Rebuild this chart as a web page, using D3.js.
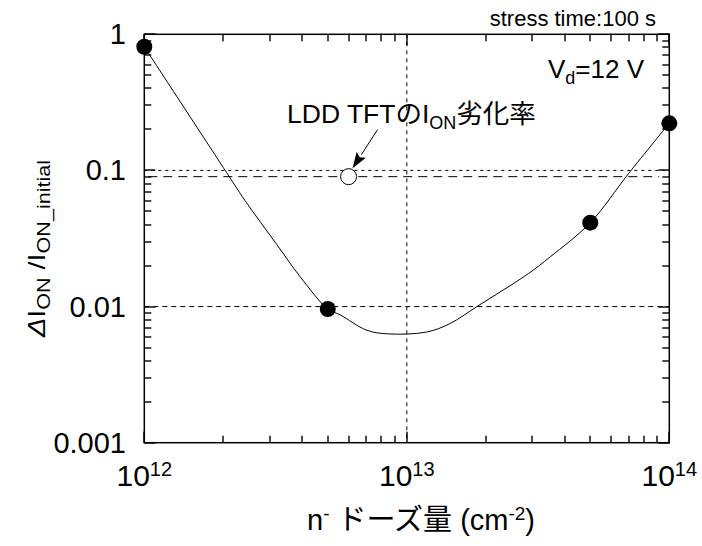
<!DOCTYPE html>
<html>
<head>
<meta charset="utf-8">
<script src="https://cdn.jsdelivr.net/npm/d3@7"></script>
<style>
  html, body { margin: 0; padding: 0; background: #fff; }
  svg { display: block; }
  text { font-family: "Liberation Sans", Arial, "Noto Sans CJK JP", sans-serif; fill: #000; }
</style>
</head>
<body>
<svg id="chart" width="702" height="546"></svg>
<script>
// n- dose (cm^-2) vs. relative ON-current degradation
const measuredDose  = [1e12, 5e12, 5e13, 1e14];
const measuredRatio = [0.81, 0.0096, 0.0413, 0.222];

// fitted trend line through the measurements
const curveDose  = [1e12, 2e12, 2.42e12, 3.2e12, 3.92e12, 5e12, 5.57e12, 7.04e12, 8.5e12,
                    1.19e13, 1.46e13, 1.85e13, 2.91e13, 3.52e13, 5e13, 7e13, 1e14];
const curveRatio = [0.81, 0.105, 0.06, 0.0285, 0.0166, 0.0096, 0.0087, 0.0067, 0.0063,
                    0.0065, 0.0075, 0.0100, 0.0175, 0.0232, 0.0413, 0.095, 0.222];

// LDD TFT reference value
const lddDose  = 6e12;
const lddRatio = 0.09;

const xTickExps   = [12, 13, 14];
const yTickValues = [0.001, 0.01, 0.1, 1];
const yTickLabels = ["0.001", "0.01", "0.1", "1"];
const xGridValues = [1e13];
const yGridValues = [0.01, 0.1];

const svg = d3.select("#chart");
const L = 144.3, R = 669.3, T = 34.3, B = 442.7;

const x = d3.scaleLog().domain([1e12, 1e14]).range([L, R]);
const y = d3.scaleLog().domain([0.001, 1]).range([B, T]);

const isDecade = v => Math.abs(Math.log10(v) - Math.round(Math.log10(v))) < 1e-6;
const tickLen = v => isDecade(v) ? 11 : 7;

// grid lines
svg.selectAll("line.vgrid").data(xGridValues).join("line").attr("class", "vgrid")
  .attr("x1", d => x(d)).attr("x2", d => x(d))
  .attr("y1", T).attr("y2", B)
  .attr("stroke", "#000").attr("stroke-width", 1).attr("stroke-dasharray", "4,4");

svg.append("line")
  .attr("x1", L).attr("x2", R).attr("y1", y(yGridValues[0])).attr("y2", y(yGridValues[0]))
  .attr("stroke", "#000").attr("stroke-width", 1).attr("stroke-dasharray", "5,4");
svg.append("line")
  .attr("x1", L).attr("x2", R).attr("y1", y(yGridValues[1])).attr("y2", y(yGridValues[1]))
  .attr("stroke", "#000").attr("stroke-width", 1).attr("stroke-dasharray", "3,4");

// level of the LDD TFT reference
svg.append("line")
  .attr("x1", L + 4).attr("x2", R - 10).attr("y1", y(lddRatio)).attr("y2", y(lddRatio))
  .attr("stroke", "#000").attr("stroke-width", 1).attr("stroke-dasharray", "9,6");

svg.append("rect")
  .attr("x", L).attr("y", T).attr("width", R - L).attr("height", B - T)
  .attr("fill", "none").attr("stroke", "#000").attr("stroke-width", 1.5);

// inward ticks on all four sides, drawn as thin filled bars
const tw = 1.4;
const xTicks = x.ticks();
const yTicks = y.ticks();
const tickGroup = svg.append("g").attr("fill", "#000");
tickGroup.selectAll("rect.xbot").data(xTicks).join("rect").attr("class", "xbot")
  .attr("x", d => Math.round(x(d)) - tw / 2).attr("width", tw)
  .attr("y", d => B - tickLen(d)).attr("height", d => tickLen(d));
tickGroup.selectAll("rect.xtop").data(xTicks).join("rect").attr("class", "xtop")
  .attr("x", d => Math.round(x(d)) - tw / 2).attr("width", tw)
  .attr("y", T).attr("height", d => tickLen(d));
tickGroup.selectAll("rect.yleft").data(yTicks).join("rect").attr("class", "yleft")
  .attr("y", d => Math.round(y(d)) - tw / 2).attr("height", tw)
  .attr("x", L).attr("width", d => tickLen(d));
tickGroup.selectAll("rect.yright").data(yTicks).join("rect").attr("class", "yright")
  .attr("y", d => Math.round(y(d)) - tw / 2).attr("height", tw)
  .attr("x", d => R - tickLen(d)).attr("width", d => tickLen(d));

// tick labels
svg.selectAll("text.ylab").data(yTickValues).join("text").attr("class", "ylab")
  .attr("x", 126).attr("y", d => y(d) + 10)
  .attr("text-anchor", "end").attr("font-size", 29)
  .text((d, i) => yTickLabels[i]);

const xl = svg.selectAll("text.xlab").data(xTickExps).join("text").attr("class", "xlab")
  .attr("x", d => x(Math.pow(10, d))).attr("y", 486)
  .attr("text-anchor", "middle").attr("font-size", 30);
xl.append("tspan").text("10");
xl.append("tspan").attr("font-size", 20).attr("dy", -10).text(d => String(d));

// fitted curve
const line = d3.line().x(d => x(d[0])).y(d => y(d[1])).curve(d3.curveCatmullRom.alpha(0.5));
svg.append("path")
  .datum(curveDose.map((d, i) => [d, curveRatio[i]]))
  .attr("d", line).attr("fill", "none").attr("stroke", "#000").attr("stroke-width", 1);

// measured points
svg.selectAll("circle.pt").data(measuredDose).join("circle").attr("class", "pt")
  .attr("cx", d => x(d)).attr("cy", (d, i) => y(measuredRatio[i]))
  .attr("r", 8).attr("fill", "#000");

// LDD TFT point
svg.append("circle")
  .attr("cx", x(lddDose)).attr("cy", y(lddRatio)).attr("r", 8)
  .attr("fill", "#fff").attr("stroke", "#000").attr("stroke-width", 1);

// arrow to the LDD TFT point
const px = x(lddDose), py = y(lddRatio);
const tip = [px + 4, py - 8.5], tail = [px + 29, py - 47];
const ang = Math.atan2(tip[1] - tail[1], tip[0] - tail[0]);
const hl = 16, hw = 5.5;
const base = [tip[0] - hl * Math.cos(ang), tip[1] - hl * Math.sin(ang)];
svg.append("line")
  .attr("x1", tail[0]).attr("y1", tail[1]).attr("x2", base[0]).attr("y2", base[1])
  .attr("stroke", "#000").attr("stroke-width", 1);
svg.append("path")
  .attr("d", `M${tip[0]},${tip[1]}L${base[0] - hw * Math.sin(ang)},${base[1] + hw * Math.cos(ang)}L${base[0] + 3 * Math.cos(ang)},${base[1] + 3 * Math.sin(ang)}L${base[0] + hw * Math.sin(ang)},${base[1] - hw * Math.cos(ang)}Z`)
  .attr("fill", "#000");

// annotation texts
const ann = svg.append("text").attr("x", 287).attr("y", 123).attr("font-size", 26.5);
ann.append("tspan").text("LDD TFTのI");
ann.append("tspan").attr("font-size", 18).attr("dy", 6).text("ON");
ann.append("tspan").attr("dy", -6).text("劣化率");

const vd = svg.append("text").attr("x", 644).attr("y", 78).attr("text-anchor", "end").attr("font-size", 26);
vd.append("tspan").text("V");
vd.append("tspan").attr("font-size", 18).attr("dy", 6).text("d");
vd.append("tspan").attr("dy", -6).text("=12 V");

svg.append("text").attr("x", 656).attr("y", 26).attr("text-anchor", "end")
  .attr("font-size", 22).text("stress time:100 s");

// x axis title
const xTitle = svg.append("text").attr("x", 307).attr("y", 530).attr("font-size", 29);
xTitle.append("tspan").text("n");
xTitle.append("tspan").attr("font-size", 19).attr("dy", -10).text("-");
xTitle.append("tspan").attr("dy", 10).text(" ドーズ量 (cm");
xTitle.append("tspan").attr("font-size", 19).attr("dy", -10).text("-2");
xTitle.append("tspan").attr("dy", 10).text(")");

// y axis title
const yTitle = svg.append("text").attr("transform", "translate(45,337) rotate(-90)")
  .attr("font-size", 24).attr("textLength", 177).attr("lengthAdjust", "spacingAndGlyphs");
yTitle.append("tspan").attr("font-style", "italic").text("Δ");
yTitle.append("tspan").text("I");
yTitle.append("tspan").attr("font-size", 18).attr("dy", 5).text("ON");
yTitle.append("tspan").attr("dy", -5).text(" /I");
yTitle.append("tspan").attr("font-size", 18).attr("dy", 5).text("ON_initial");
</script>
</body>
</html>
